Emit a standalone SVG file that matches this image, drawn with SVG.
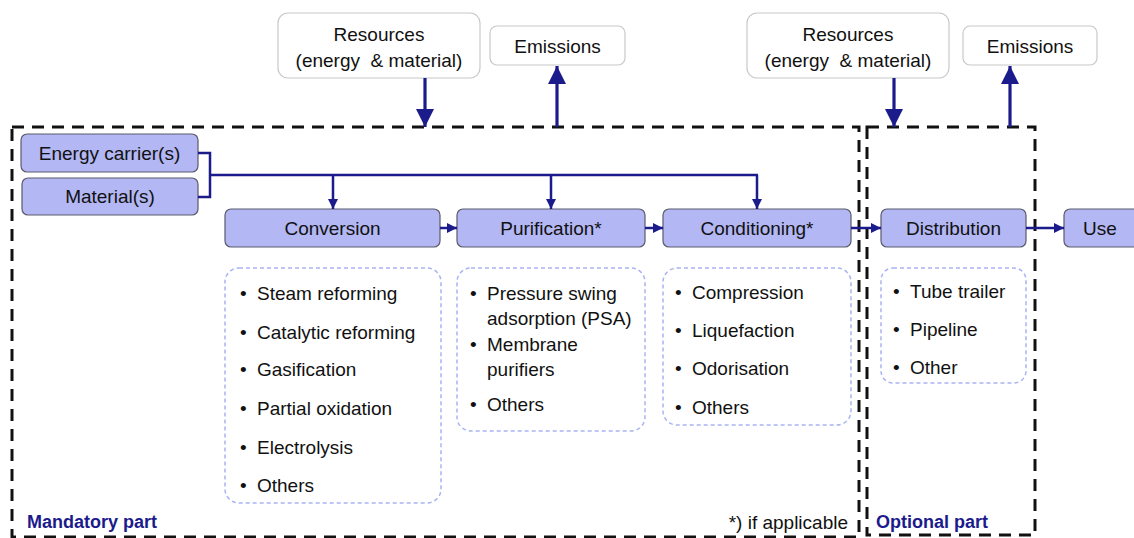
<svg xmlns="http://www.w3.org/2000/svg" width="1134" height="538" viewBox="0 0 1134 538">
<style>
text{font-family:"Liberation Sans",Arial,sans-serif;fill:#111;}
.node rect{fill:#B3B7F4;stroke:#5a5a6a;stroke-width:1.2;}
.lbl{font-size:19px;text-anchor:middle;dominant-baseline:central;}
.res rect{fill:#fff;stroke:#c8c8c8;stroke-width:1.2;}
.list rect{fill:#fff;stroke:#aab4f2;stroke-width:1.5;stroke-dasharray:4 3;}
.item{font-size:19px;}
.frame{fill:none;stroke:#111;stroke-width:3;stroke-dasharray:12 8;}
.conn{fill:none;stroke:#1B1B8C;stroke-width:2.5;}
.big{fill:none;stroke:#1B1B8C;stroke-width:3.2;}
.part{font-size:18px;font-weight:bold;fill:#1B1B8C;dominant-baseline:central;}
</style>
<defs>
<marker id="sa" markerUnits="userSpaceOnUse" markerWidth="10" markerHeight="10" refX="10" refY="5" orient="auto"><path d="M0,0 L10,5 L0,10 z" fill="#1B1B8C"/></marker>
<marker id="ba" markerUnits="userSpaceOnUse" markerWidth="18" markerHeight="18" refX="18" refY="9" orient="auto"><path d="M0,0 L18,9 L0,18 z" fill="#1B1B8C"/></marker>
</defs>

<g id="frames">
<rect class="frame" x="12" y="127" width="847" height="410"/>
<rect class="frame" x="867" y="127" width="168" height="408"/>
</g>

<g id="resources1" class="res"><rect x="278" y="13" width="202" height="65" rx="10"/>
<text class="lbl" x="379" y="34">Resources</text><text class="lbl" x="379" y="60">(energy&#160; &amp; material)</text></g>
<g id="emissions1" class="res"><rect x="490" y="26" width="135" height="39" rx="7"/>
<text class="lbl" x="557.5" y="46">Emissions</text></g>
<g id="resources2" class="res"><rect x="747" y="13" width="202" height="65" rx="10"/>
<text class="lbl" x="848" y="34">Resources</text><text class="lbl" x="848" y="60">(energy&#160; &amp; material)</text></g>
<g id="emissions2" class="res"><rect x="963" y="26" width="134" height="39" rx="7"/>
<text class="lbl" x="1030" y="46">Emissions</text></g>

<g id="energy" class="node"><rect x="21" y="134" width="177" height="38" rx="6"/><text class="lbl" x="109.5" y="153">Energy carrier(s)</text></g>
<g id="material" class="node"><rect x="22" y="178" width="176" height="37" rx="6"/><text class="lbl" x="110" y="196.5">Material(s)</text></g>
<g id="conversion" class="node"><rect x="225" y="209" width="215" height="38" rx="6"/><text class="lbl" x="332.5" y="228">Conversion</text></g>
<g id="purification" class="node"><rect x="457" y="209" width="188" height="38" rx="6"/><text class="lbl" x="551" y="228">Purification*</text></g>
<g id="conditioning" class="node"><rect x="663" y="209" width="188" height="38" rx="6"/><text class="lbl" x="757" y="228">Conditioning*</text></g>
<g id="distribution" class="node"><rect x="881" y="209" width="145" height="38" rx="6"/><text class="lbl" x="953.5" y="228">Distribution</text></g>
<g id="use" class="node"><rect x="1064" y="209" width="90" height="38" rx="6"/><text class="lbl" x="1100" y="228">Use</text></g>

<g id="conversion-list" class="list"><rect x="225" y="268" width="216" height="235" rx="14"/>
<text class="item" x="240" y="300">•</text><text class="item" x="257" y="300">Steam reforming</text>
<text class="item" x="240" y="339">•</text><text class="item" x="257" y="339">Catalytic reforming</text>
<text class="item" x="240" y="376">•</text><text class="item" x="257" y="376">Gasification</text>
<text class="item" x="240" y="415">•</text><text class="item" x="257" y="415">Partial oxidation</text>
<text class="item" x="240" y="454">•</text><text class="item" x="257" y="454">Electrolysis</text>
<text class="item" x="240" y="492">•</text><text class="item" x="257" y="492">Others</text>
</g>
<g id="purification-list" class="list"><rect x="457" y="268" width="188" height="163" rx="14"/>
<text class="item" x="470" y="300">•</text><text class="item" x="487" y="300">Pressure swing</text>
<text class="item" x="487" y="325">adsorption (PSA)</text>
<text class="item" x="470" y="351">•</text><text class="item" x="487" y="351">Membrane</text>
<text class="item" x="487" y="376">purifiers</text>
<text class="item" x="470" y="411">•</text><text class="item" x="487" y="411">Others</text>
</g>
<g id="conditioning-list" class="list"><rect x="663" y="268" width="188" height="157" rx="14"/>
<text class="item" x="675" y="299">•</text><text class="item" x="692" y="299">Compression</text>
<text class="item" x="675" y="337">•</text><text class="item" x="692" y="337">Liquefaction</text>
<text class="item" x="675" y="375">•</text><text class="item" x="692" y="375">Odorisation</text>
<text class="item" x="675" y="414">•</text><text class="item" x="692" y="414">Others</text>
</g>
<g id="distribution-list" class="list"><rect x="881" y="268" width="145" height="115" rx="12"/>
<text class="item" x="893" y="298">•</text><text class="item" x="910" y="298">Tube trailer</text>
<text class="item" x="893" y="336">•</text><text class="item" x="910" y="336">Pipeline</text>
<text class="item" x="893" y="374">•</text><text class="item" x="910" y="374">Other</text>
</g>

<g id="connectors">
<polyline class="conn" points="198,153 210,153 210,197 198,197"/>
<line class="conn" x1="210" y1="175" x2="758" y2="175"/>
<line class="conn" x1="333" y1="175" x2="333" y2="209" marker-end="url(#sa)"/>
<line class="conn" x1="551" y1="175" x2="551" y2="209" marker-end="url(#sa)"/>
<line class="conn" x1="757" y1="175" x2="757" y2="209" marker-end="url(#sa)"/>
<line class="conn" x1="440" y1="228" x2="457" y2="228" marker-end="url(#sa)"/>
<line class="conn" x1="645" y1="228" x2="663" y2="228" marker-end="url(#sa)"/>
<line class="conn" x1="851" y1="228" x2="881" y2="228" marker-end="url(#sa)"/>
<line class="conn" x1="1026" y1="228" x2="1064" y2="228" marker-end="url(#sa)"/>
<line class="big" x1="425" y1="78" x2="425" y2="127" marker-end="url(#ba)"/>
<line class="big" x1="557" y1="127" x2="557" y2="66" marker-end="url(#ba)"/>
<line class="big" x1="894" y1="78" x2="894" y2="127" marker-end="url(#ba)"/>
<line class="big" x1="1010" y1="127" x2="1010" y2="66" marker-end="url(#ba)"/>
</g>

<g id="labels">
<text class="part" x="27" y="522">Mandatory part</text>
<text class="lbl" x="848" y="522" style="text-anchor:end">*) if applicable</text>
<text class="part" x="876" y="522">Optional part</text>
</g>
</svg>
